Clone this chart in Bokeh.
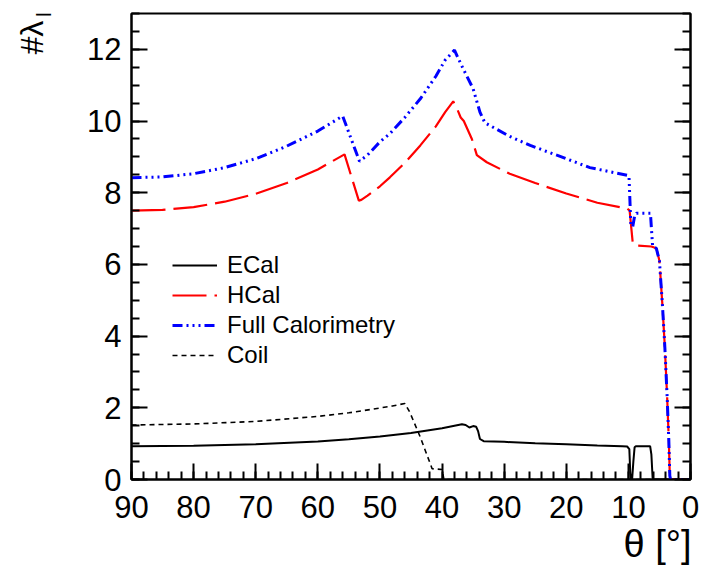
from math import pi
from bokeh.plotting import figure
from bokeh.layouts import row
from bokeh.models import (Range1d, LinearAxis, SingleIntervalTicker, Legend,
                          LegendItem, Label, Title, CustomJSTickFormatter)
from bokeh.embed import file_html
from bokeh.resources import INLINE

# ---- data ----
ecal_theta = [90, 80, 70, 60, 55, 50, 45, 40, 36.8, 36.2, 35.6, 35.0, 34.5, 34.2, 33.9,
              33.3, 30, 25, 20, 15, 11, 10.2, 9.85, 9.7, 9.6, 9.4, 9.2, 9.0, 8.8, 6.5,
              6.3, 6.1, 6.0, 0]
ecal_val = [0.93, 0.94, 0.98, 1.06, 1.12, 1.20, 1.30, 1.43, 1.54, 1.52, 1.45, 1.49, 1.47,
            1.35, 1.13, 1.07, 1.05, 1.01, 0.98, 0.95, 0.93, 0.92, 0.85, 0.2, 0.0, 0.0,
            0.5, 0.9, 0.93, 0.93, 0.7, 0.05, 0.0, 0.0]

hcal_theta = [90, 85, 80, 75, 70, 65, 60, 55.7, 53.4, 53.0, 52, 50, 48.4, 46, 43.5, 41,
              39.5, 38.2, 37.6, 37.0, 36.5, 35.2, 34.4, 32.8, 29.1, 25, 20, 15, 10.2,
              9.8, 9.3, 9.0, 6.3, 5.5, 5.0, 4.5, 4.13, 3.76, 3.49, 3.33, 3.2, 0]
hcal_val = [7.50, 7.52, 7.60, 7.75, 7.97, 8.27, 8.65, 9.07, 7.78, 7.80, 7.92, 8.18, 8.43,
            8.83, 9.32, 9.85, 10.25, 10.55, 10.35, 10.10, 10.0, 9.5, 9.05, 8.85, 8.53,
            8.27, 7.98, 7.72, 7.56, 7.50, 6.6, 6.53, 6.50, 6.45, 6.10, 4.81, 3.69, 2.30,
            1.09, 0.10, 0.0, 0.0]

full_theta = [90, 85, 80, 75, 70, 65, 60, 56.0, 53.3, 52, 50, 48.4, 46, 43.5, 41, 39.5,
              38.0, 37.4, 36.6, 35.0, 33.9, 33.1, 29.1, 25.8, 20, 16.2, 10.0, 9.9, 9.6,
              9.3, 9.0, 8.7, 6.45, 6.1, 5.5, 5.0, 4.5, 4.13, 3.76, 3.49, 3.33, 3.2, 0]
full_val = [8.42, 8.44, 8.53, 8.70, 8.95, 9.30, 9.72, 10.14, 8.88, 9.05, 9.42, 9.65, 10.1,
            10.62, 11.25, 11.7, 11.98, 11.75, 11.46, 10.9, 10.25, 9.95, 9.57, 9.32, 8.95,
            8.70, 8.48, 8.45, 7.09, 7.05, 7.35, 7.43, 7.43, 6.5, 6.45, 6.10, 4.81, 3.69,
            2.30, 1.09, 0.10, 0.0, 0.0]

coil_theta = [90, 80, 70, 60, 55, 51.6, 48, 46.0, 45.2, 43.5, 41.6, 40.0, 39.7, 0]
coil_val = [1.52, 1.55, 1.62, 1.76, 1.86, 1.95, 2.05, 2.12, 1.88, 1.18, 0.30, 0.28, 0.0, 0.0]

x_ticks_interval = 10
y_ticks_interval = 2
legend_labels = ["ECal", "HCal", "Full Calorimetry", "Coil"]
x_title = "θ [°]"
y_title = "#λ"
y_title_sub = "I"

FONT = "Liberation Sans"
LEFT_W = 60
H = 565

# ---- left strip holding the y-axis title (pixel-aligned data space) ----
pt = figure(frame_width=LEFT_W, frame_height=H, output_backend="svg", title=None,
            toolbar_location=None, x_axis_location=None, y_axis_location=None,
            x_range=Range1d(0, LEFT_W), y_range=Range1d(0, H), min_border=0)
pt.outline_line_color = None
pt.grid.visible = False
pt.add_layout(Label(x=31, y=H - 41, text=y_title, angle=pi / 2, text_align="left",
                    text_baseline="alphabetic", text_font=FONT, text_font_size="32px",
                    text_color="black"))
pt.add_layout(Label(x=43, y=H - 4, text=y_title_sub, angle=pi / 2,
                    text_align="left", text_baseline="alphabetic", text_font=FONT,
                    text_font_size="22px", text_color="black"))

# ---- main plot ----
p = figure(width=703 - LEFT_W, height=H, output_backend="svg", toolbar_location=None,
           x_range=Range1d(90, 0), y_range=Range1d(0, 13),
           min_border_left=131 - LEFT_W, min_border_right=13, min_border_top=13,
           min_border_bottom=86)
p.grid.visible = False
p.outline_line_color = "black"
p.outline_line_width = 2
p.background_fill_color = "white"
p.border_fill_color = "white"

xa = p.xaxis[0]
xa.ticker = SingleIntervalTicker(interval=x_ticks_interval, num_minor_ticks=5)
ya = p.yaxis[0]
ya.ticker = SingleIntervalTicker(interval=y_ticks_interval, num_minor_ticks=4)
for ax in (xa, ya):
    ax.axis_line_color = "black"
    ax.axis_line_width = 2
    ax.major_tick_line_width = 2
    ax.minor_tick_line_width = 2
    ax.major_tick_out = 0
    ax.minor_tick_out = 0
    ax.major_tick_in = 16
    ax.minor_tick_in = 8
    ax.major_label_text_font = FONT
    ax.major_label_text_font_size = "31px"
    ax.major_label_text_color = "black"
xa.major_label_standoff = 16
ya.major_label_standoff = 10

ra = LinearAxis(ticker=SingleIntervalTicker(interval=y_ticks_interval, num_minor_ticks=4),
                formatter=CustomJSTickFormatter(code="return ''"))
ra.axis_line_color = "black"
ra.axis_line_width = 2
ra.major_tick_line_width = 2
ra.minor_tick_line_width = 2
ra.major_tick_out = 0
ra.minor_tick_out = 0
ra.major_tick_in = 16
ra.minor_tick_in = 8
ra.major_label_standoff = 0
p.add_layout(ra, "right")

r_ecal = p.line(ecal_theta, ecal_val, line_color="black", line_width=2)
r_hcal = p.line(hcal_theta, hcal_val, line_color="#ff0000", line_width=2.2,
                line_dash="34 8")
r_full = p.line(full_theta, full_val, line_color="#0000ff", line_width=3,
                line_dash="10 4 2 4 2 4 2 4")
r_coil = p.line(coil_theta, coil_val, line_color="black", line_width=1.6,
                line_dash="5 4")

legend = Legend(items=[LegendItem(label=legend_labels[0], renderers=[r_ecal]),
                       LegendItem(label=legend_labels[1], renderers=[r_hcal]),
                       LegendItem(label=legend_labels[2], renderers=[r_full]),
                       LegendItem(label=legend_labels[3], renderers=[r_coil])],
                location=(41, 109), padding=0, margin=0, spacing=0,
                border_line_alpha=0, background_fill_alpha=0,
                label_text_font=FONT, label_text_font_size="24px",
                label_text_color="black",
                glyph_width=45, glyph_height=30, label_height=30,
                label_standoff=10)
p.add_layout(legend)

p.add_layout(Title(text=x_title, align="right", text_font=FONT, text_font_size="38px",
                   text_font_style="normal", text_color="black", standoff=0,
                   offset=-1), "below")

layout = row(pt, p)
open("out.html", "w").write(file_html(layout, INLINE))
